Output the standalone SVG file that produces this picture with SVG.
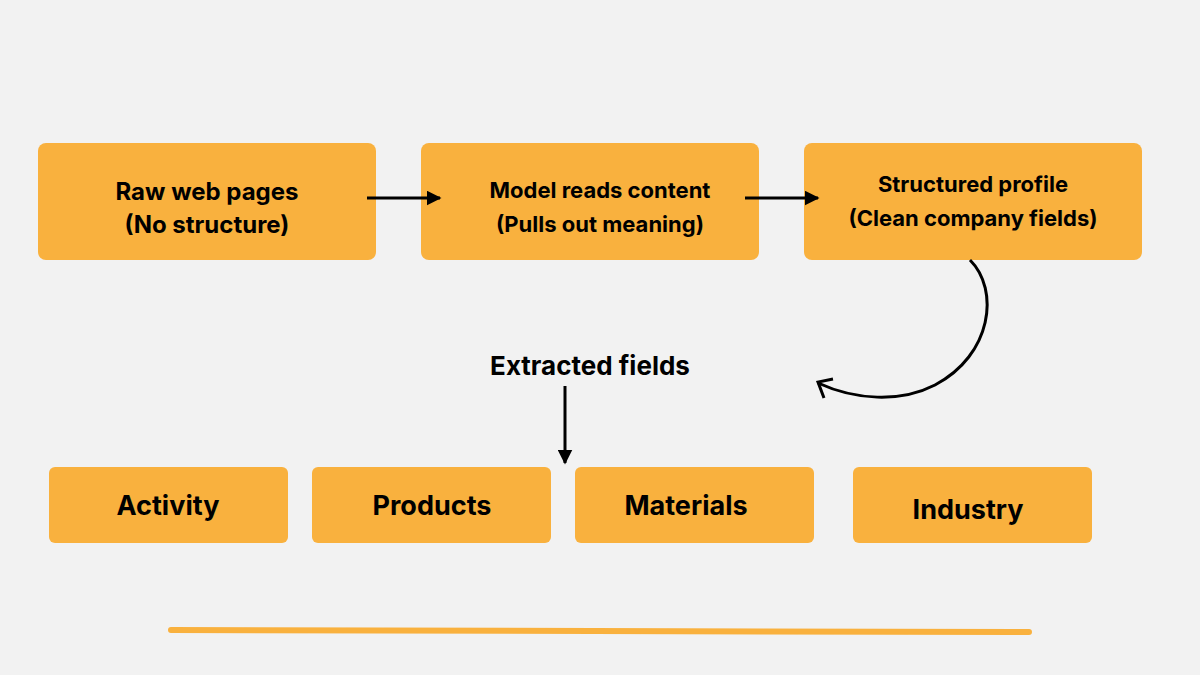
<svg xmlns="http://www.w3.org/2000/svg" width="1200" height="675" viewBox="0 0 1200 675">
<defs>
<marker id="ah" viewBox="0 0 10 10" refX="9" refY="5" markerWidth="5" markerHeight="5" orient="auto"><path d="M0,0 L10,5 L0,10 z" fill="#000"/></marker>
<style>
.box{fill:#f9b13e}
.t{font-family:Inter,"Noto Sans",sans-serif;font-weight:700;fill:#000;text-anchor:middle}
.c{stroke:#000;stroke-width:3;fill:none}
</style>
</defs>
<rect width="1200" height="675" fill="#f2f2f2"/>
<g id="n1"><rect class="box" x="38" y="143" width="338" height="117" rx="8"/><text class="t" x="207" y="200" font-size="24">Raw web pages</text><text class="t" x="207" y="233" font-size="24">(No structure)</text></g>
<g id="n2"><rect class="box" x="421" y="143" width="338" height="117" rx="8"/><text class="t" x="600" y="198" font-size="22">Model reads content</text><text class="t" x="600" y="232" font-size="22">(Pulls out meaning)</text></g>
<g id="n3"><rect class="box" x="804" y="143" width="338" height="117" rx="8"/><text class="t" x="973" y="192" font-size="22">Structured profile</text><text class="t" x="973" y="226" font-size="22">(Clean company fields)</text></g>
<text class="t" x="590" y="375" font-size="26">Extracted fields</text>
<g id="n4"><rect class="box" x="49" y="467" width="239" height="76" rx="6"/><text class="t" x="168" y="515" font-size="27">Activity</text></g>
<g id="n5"><rect class="box" x="312" y="467" width="239" height="76" rx="6"/><text class="t" x="432" y="515" font-size="27">Products</text></g>
<g id="n6"><rect class="box" x="575" y="467" width="239" height="76" rx="6"/><text class="t" x="686" y="515" font-size="27">Materials</text></g>
<g id="n7"><rect class="box" x="853" y="467" width="239" height="76" rx="6"/><text class="t" x="968" y="519" font-size="27">Industry</text></g>
<g id="connectors">
<line class="c" x1="367" y1="198" x2="440" y2="198" marker-end="url(#ah)"/>
<line class="c" x1="745" y1="198" x2="818" y2="198" marker-end="url(#ah)"/>
<line class="c" x1="565" y1="386" x2="565" y2="463" marker-end="url(#ah)"/>
<path class="c" d="M970,260 C1000,290 992,355 935,385 C900,403 855,400 818,383"/>
<path class="c" d="M833,379 L818,382 L824,398"/>
</g>
<line x1="171" y1="630" x2="1029" y2="632" stroke="#f9b13e" stroke-width="6" stroke-linecap="round"/>
</svg>
